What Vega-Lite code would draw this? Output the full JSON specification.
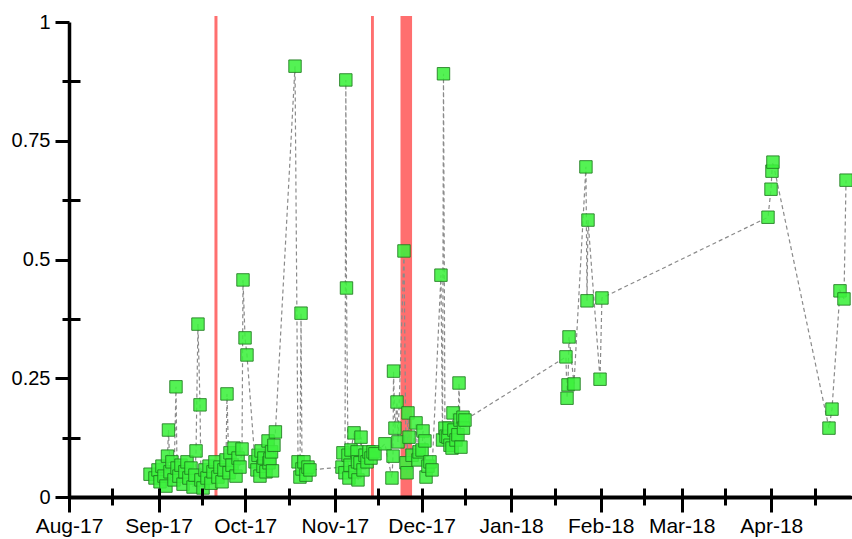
{
  "$schema": "https://vega.github.io/schema/vega-lite/v6.json",
  "width": 781,
  "height": 475,
  "autosize": {"type": "none"},
  "padding": {"left": 69, "top": 22, "right": 2, "bottom": 42},
  "background": "white",
  "config": {
    "view": {"stroke": null},
    "axis": {"labelFont": "Liberation Sans", "labelColor": "black", "domainColor": "black", "tickColor": "black", "grid": false, "title": null}
  },
  "datasets": {
    "bands": [
      {"start": "2017-09-20T08:00", "end": "2017-09-21T09:00"},
      {"start": "2017-11-13T12:00", "end": "2017-11-14T12:00"},
      {"start": "2017-11-23T17:00", "end": "2017-11-27T17:00"}
    ],
    "series": [
      {"date": "2017-08-29T01:00", "value": 0.048},
      {"date": "2017-08-30T18:00", "value": 0.040},
      {"date": "2017-08-31T19:00", "value": 0.057},
      {"date": "2017-09-01T12:00", "value": 0.032},
      {"date": "2017-09-02T04:00", "value": 0.065},
      {"date": "2017-09-02T21:00", "value": 0.044},
      {"date": "2017-09-03T13:00", "value": 0.023},
      {"date": "2017-09-04T02:00", "value": 0.086},
      {"date": "2017-09-04T10:00", "value": 0.141},
      {"date": "2017-09-04T23:00", "value": 0.053},
      {"date": "2017-09-05T15:00", "value": 0.074},
      {"date": "2017-09-06T08:00", "value": 0.036},
      {"date": "2017-09-07T00:30", "value": 0.232},
      {"date": "2017-09-07T09:00", "value": 0.061},
      {"date": "2017-09-08T01:00", "value": 0.044},
      {"date": "2017-09-08T18:00", "value": 0.067},
      {"date": "2017-09-09T11:00", "value": 0.027},
      {"date": "2017-09-10T03:00", "value": 0.053},
      {"date": "2017-09-10T20:00", "value": 0.074},
      {"date": "2017-09-11T12:00", "value": 0.040},
      {"date": "2017-09-12T05:00", "value": 0.061},
      {"date": "2017-09-12T22:00", "value": 0.021},
      {"date": "2017-09-13T14:00", "value": 0.046},
      {"date": "2017-09-13T23:00", "value": 0.097},
      {"date": "2017-09-14T15:00", "value": 0.364},
      {"date": "2017-09-15T08:00", "value": 0.194},
      {"date": "2017-09-15T16:00", "value": 0.036},
      {"date": "2017-09-16T09:00", "value": 0.019},
      {"date": "2017-09-17T01:00", "value": 0.057},
      {"date": "2017-09-17T18:00", "value": 0.040},
      {"date": "2017-09-18T11:00", "value": 0.065},
      {"date": "2017-09-19T03:00", "value": 0.029},
      {"date": "2017-09-19T20:00", "value": 0.053},
      {"date": "2017-09-20T12:00", "value": 0.074},
      {"date": "2017-09-21T13:00", "value": 0.042},
      {"date": "2017-09-22T06:00", "value": 0.063},
      {"date": "2017-09-22T23:00", "value": 0.032},
      {"date": "2017-09-23T15:00", "value": 0.057},
      {"date": "2017-09-24T08:00", "value": 0.078},
      {"date": "2017-09-24T16:00", "value": 0.217},
      {"date": "2017-09-25T09:00", "value": 0.051},
      {"date": "2017-09-25T17:00", "value": 0.093},
      {"date": "2017-09-26T10:00", "value": 0.067},
      {"date": "2017-09-27T02:00", "value": 0.103},
      {"date": "2017-09-27T19:00", "value": 0.044},
      {"date": "2017-09-28T12:00", "value": 0.082},
      {"date": "2017-09-29T04:00", "value": 0.063},
      {"date": "2017-09-29T21:00", "value": 0.101},
      {"date": "2017-09-30T05:00", "value": 0.457},
      {"date": "2017-09-30T22:00", "value": 0.335},
      {"date": "2017-10-01T14:00", "value": 0.299},
      {"date": "2017-10-04T09:00", "value": 0.074},
      {"date": "2017-10-05T01:00", "value": 0.057},
      {"date": "2017-10-05T10:00", "value": 0.088},
      {"date": "2017-10-06T02:00", "value": 0.044},
      {"date": "2017-10-06T11:00", "value": 0.097},
      {"date": "2017-10-07T03:00", "value": 0.065},
      {"date": "2017-10-07T11:00", "value": 0.082},
      {"date": "2017-10-08T04:00", "value": 0.053},
      {"date": "2017-10-08T21:00", "value": 0.118},
      {"date": "2017-10-09T05:00", "value": 0.072},
      {"date": "2017-10-09T13:00", "value": 0.080},
      {"date": "2017-10-10T02:00", "value": 0.095},
      {"date": "2017-10-10T10:00", "value": 0.055},
      {"date": "2017-10-10T22:00", "value": 0.109},
      {"date": "2017-10-11T10:00", "value": 0.137},
      {"date": "2017-10-18T05:00", "value": 0.907},
      {"date": "2017-10-19T06:00", "value": 0.074},
      {"date": "2017-10-19T22:00", "value": 0.042},
      {"date": "2017-10-20T07:00", "value": 0.387},
      {"date": "2017-10-20T15:00", "value": 0.059},
      {"date": "2017-10-21T07:00", "value": 0.074},
      {"date": "2017-10-22T00:00", "value": 0.046},
      {"date": "2017-10-22T17:00", "value": 0.063},
      {"date": "2017-10-23T09:00", "value": 0.057},
      {"date": "2017-11-03T11:00", "value": 0.063},
      {"date": "2017-11-03T19:00", "value": 0.093},
      {"date": "2017-11-04T12:00", "value": 0.051},
      {"date": "2017-11-04T19:00", "value": 0.878},
      {"date": "2017-11-05T00:30", "value": 0.440},
      {"date": "2017-11-05T13:00", "value": 0.088},
      {"date": "2017-11-05T21:00", "value": 0.040},
      {"date": "2017-11-06T06:00", "value": 0.067},
      {"date": "2017-11-06T14:00", "value": 0.099},
      {"date": "2017-11-07T15:00", "value": 0.135},
      {"date": "2017-11-07T23:00", "value": 0.053},
      {"date": "2017-11-08T16:00", "value": 0.095},
      {"date": "2017-11-08T20:00", "value": 0.074},
      {"date": "2017-11-09T00:00", "value": 0.036},
      {"date": "2017-11-09T17:00", "value": 0.072},
      {"date": "2017-11-10T01:00", "value": 0.126},
      {"date": "2017-11-10T18:00", "value": 0.057},
      {"date": "2017-11-11T10:00", "value": 0.088},
      {"date": "2017-11-12T03:00", "value": 0.074},
      {"date": "2017-11-12T19:00", "value": 0.095},
      {"date": "2017-11-13T12:00", "value": 0.082},
      {"date": "2017-11-14T05:00", "value": 0.095},
      {"date": "2017-11-14T21:00", "value": 0.091},
      {"date": "2017-11-18T08:00", "value": 0.112},
      {"date": "2017-11-20T18:00", "value": 0.040},
      {"date": "2017-11-21T03:00", "value": 0.086},
      {"date": "2017-11-21T07:00", "value": 0.265},
      {"date": "2017-11-21T19:00", "value": 0.145},
      {"date": "2017-11-22T12:00", "value": 0.200},
      {"date": "2017-11-22T20:00", "value": 0.116},
      {"date": "2017-11-24T22:00", "value": 0.518},
      {"date": "2017-11-25T15:00", "value": 0.072},
      {"date": "2017-11-25T23:00", "value": 0.051},
      {"date": "2017-11-26T07:00", "value": 0.177},
      {"date": "2017-11-26T16:00", "value": 0.126},
      {"date": "2017-11-27T17:00", "value": 0.088},
      {"date": "2017-11-29T02:00", "value": 0.156},
      {"date": "2017-11-29T18:00", "value": 0.078},
      {"date": "2017-11-30T03:00", "value": 0.095},
      {"date": "2017-12-01T04:00", "value": 0.099},
      {"date": "2017-12-01T12:00", "value": 0.139},
      {"date": "2017-12-02T04:00", "value": 0.118},
      {"date": "2017-12-02T13:00", "value": 0.042},
      {"date": "2017-12-03T05:00", "value": 0.065},
      {"date": "2017-12-03T22:00", "value": 0.074},
      {"date": "2017-12-04T15:00", "value": 0.057},
      {"date": "2017-12-07T17:00", "value": 0.467},
      {"date": "2017-12-08T06:00", "value": 0.120},
      {"date": "2017-12-08T14:00", "value": 0.891},
      {"date": "2017-12-09T02:00", "value": 0.145},
      {"date": "2017-12-09T11:00", "value": 0.128},
      {"date": "2017-12-10T03:00", "value": 0.126},
      {"date": "2017-12-10T12:00", "value": 0.145},
      {"date": "2017-12-10T20:00", "value": 0.109},
      {"date": "2017-12-11T13:00", "value": 0.103},
      {"date": "2017-12-11T21:00", "value": 0.177},
      {"date": "2017-12-12T05:00", "value": 0.141},
      {"date": "2017-12-12T22:00", "value": 0.120},
      {"date": "2017-12-13T14:00", "value": 0.131},
      {"date": "2017-12-13T23:00", "value": 0.240},
      {"date": "2017-12-14T07:00", "value": 0.162},
      {"date": "2017-12-14T15:00", "value": 0.105},
      {"date": "2017-12-15T08:00", "value": 0.168},
      {"date": "2017-12-15T12:00", "value": 0.145},
      {"date": "2017-12-16T00:30", "value": 0.162},
      {"date": "2018-01-19T23:00", "value": 0.295},
      {"date": "2018-01-20T08:00", "value": 0.208},
      {"date": "2018-01-20T16:00", "value": 0.236},
      {"date": "2018-01-21T00:30", "value": 0.337},
      {"date": "2018-01-22T18:00", "value": 0.238},
      {"date": "2018-01-26T21:00", "value": 0.695},
      {"date": "2018-01-27T06:00", "value": 0.413},
      {"date": "2018-01-27T14:00", "value": 0.583},
      {"date": "2018-01-31T18:00", "value": 0.248},
      {"date": "2018-02-01T10:00", "value": 0.419},
      {"date": "2018-03-30T21:00", "value": 0.589},
      {"date": "2018-03-31T22:00", "value": 0.648},
      {"date": "2018-04-01T06:00", "value": 0.686},
      {"date": "2018-04-01T14:00", "value": 0.705},
      {"date": "2018-04-20T23:30", "value": 0.145},
      {"date": "2018-04-22T00:30", "value": 0.185},
      {"date": "2018-04-24T19:00", "value": 0.434},
      {"date": "2018-04-26T04:00", "value": 0.417},
      {"date": "2018-04-26T21:00", "value": 0.667}
    ]
  },
  "layer": [
    {
      "data": {"name": "bands"},
      "mark": {"type": "rect", "color": "#ff6f6f"},
      "encoding": {
        "x": {"field": "start", "type": "temporal", "axis": null},
        "x2": {"field": "end"},
        "y": {"datum": 0, "type": "quantitative", "axis": null},
        "y2": {"datum": 1.0126}
      }
    },
    {
      "data": {"name": "series"},
      "mark": {"type": "line", "color": "#8a8a8a", "strokeWidth": 1.2, "strokeDash": [4, 3]},
      "encoding": {
        "x": {
          "field": "date", "type": "temporal",
          "axis": {
            "orient": "bottom", "domain": false, "labels": false, "offset": -9, "tickSize": 17, "tickWidth": 3, "zindex": 1,
            "values": [
              {"year": 2017, "month": 8, "date": 1}, {"year": 2017, "month": 8, "date": 16},
              {"year": 2017, "month": 9, "date": 1}, {"year": 2017, "month": 9, "date": 16},
              {"year": 2017, "month": 10, "date": 1}, {"year": 2017, "month": 10, "date": 16},
              {"year": 2017, "month": 11, "date": 1}, {"year": 2017, "month": 11, "date": 16},
              {"year": 2017, "month": 12, "date": 1}, {"year": 2017, "month": 12, "date": 16},
              {"year": 2018, "month": 1, "date": 1}, {"year": 2018, "month": 1, "date": 16},
              {"year": 2018, "month": 2, "date": 1}, {"year": 2018, "month": 2, "date": 16},
              {"year": 2018, "month": 3, "date": 1}, {"year": 2018, "month": 3, "date": 16},
              {"year": 2018, "month": 4, "date": 1}, {"year": 2018, "month": 4, "date": 16}
            ]
          }
        },
        "y": {
          "field": "value", "type": "quantitative",
          "axis": {"orient": "left", "domain": false, "labels": false, "offset": -11, "tickSize": 18, "tickWidth": 3, "zindex": 1, "values": [0.125, 0.375, 0.625, 0.875]}
        }
      }
    },
    {
      "data": {"name": "series"},
      "mark": {"type": "point", "shape": "square", "filled": true, "size": 155, "color": "#3cf03c", "fillOpacity": 0.88, "stroke": "#1f7a1f", "strokeWidth": 1, "strokeOpacity": 0.85},
      "encoding": {
        "x": {
          "field": "date", "type": "temporal",
          "scale": {"domain": [{"year": 2017, "month": 8, "date": 1}, {"year": 2018, "month": 4, "date": 28, "hours": 6}], "nice": false},
          "axis": {
            "orient": "bottom", "format": "%b-%y", "labelFontSize": 21, "labelPadding": 3, "labelFlush": false, "labelOverlap": false,
            "tickSize": 15, "tickWidth": 3, "domainWidth": 4, "domainCap": "round", "zindex": 1,
            "values": [
              {"year": 2017, "month": 8, "date": 1}, {"year": 2017, "month": 9, "date": 1},
              {"year": 2017, "month": 10, "date": 1}, {"year": 2017, "month": 11, "date": 1},
              {"year": 2017, "month": 12, "date": 1}, {"year": 2018, "month": 1, "date": 1},
              {"year": 2018, "month": 2, "date": 1}, {"year": 2018, "month": 3, "date": 1},
              {"year": 2018, "month": 4, "date": 1}
            ]
          }
        },
        "y": {
          "field": "value", "type": "quantitative",
          "scale": {"domain": [0, 1], "nice": false},
          "axis": {"orient": "left", "values": [0, 0.25, 0.5, 0.75, 1], "format": ".2~f", "labelFontSize": 20, "labelPadding": 5, "tickSize": 14, "tickWidth": 3, "domainWidth": 3.5, "zindex": 1}
        }
      }
    }
  ],
  "resolve": {"axis": {"x": "independent", "y": "independent"}}
}
